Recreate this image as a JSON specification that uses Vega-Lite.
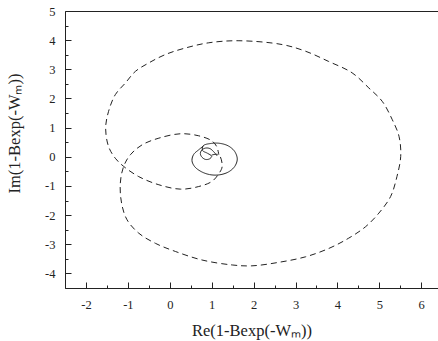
{
  "$schema": "https://vega.github.io/schema/vega-lite/v6.json",
  "width": 373,
  "height": 277,
  "autosize": {"type": "none"},
  "padding": {"left": 65, "top": 11, "right": 0, "bottom": 53},
  "background": "white",
  "config": {
    "view": {"stroke": null},
    "axis": {
      "labelFont": "Liberation Serif",
      "titleFont": "Liberation Serif",
      "labelFontSize": 12.5,
      "titleFontSize": 16.5,
      "titleFontWeight": "normal",
      "labelColor": "#222",
      "titleColor": "#222",
      "domainColor": "#222",
      "tickColor": "#222",
      "grid": false
    }
  },
  "data": {"name": "curves"},
  "datasets": {
    "curves": [
      {"s": "dashed", "o": 0, "x": 1.0, "y": 0.06},
      {"s": "dashed", "o": 1, "x": 1.17, "y": 0.07},
      {"s": "dashed", "o": 2, "x": 1.25, "y": -0.33},
      {"s": "dashed", "o": 3, "x": 1.17, "y": -0.58},
      {"s": "dashed", "o": 4, "x": 1.0, "y": -0.85},
      {"s": "dashed", "o": 5, "x": 0.69, "y": -1.02},
      {"s": "dashed", "o": 6, "x": 0.26, "y": -1.11},
      {"s": "dashed", "o": 7, "x": -0.26, "y": -0.96},
      {"s": "dashed", "o": 8, "x": -0.74, "y": -0.68},
      {"s": "dashed", "o": 9, "x": -1.1, "y": -0.33},
      {"s": "dashed", "o": 10, "x": -1.3, "y": -0.05},
      {"s": "dashed", "o": 11, "x": -1.46, "y": 0.35},
      {"s": "dashed", "o": 12, "x": -1.53, "y": 0.99},
      {"s": "dashed", "o": 13, "x": -1.46, "y": 1.56},
      {"s": "dashed", "o": 14, "x": -1.3, "y": 2.13},
      {"s": "dashed", "o": 15, "x": -1.06, "y": 2.53},
      {"s": "dashed", "o": 16, "x": -0.82, "y": 2.93},
      {"s": "dashed", "o": 17, "x": -0.5, "y": 3.22},
      {"s": "dashed", "o": 18, "x": -0.1, "y": 3.51},
      {"s": "dashed", "o": 19, "x": 0.37, "y": 3.73},
      {"s": "dashed", "o": 20, "x": 0.93, "y": 3.91},
      {"s": "dashed", "o": 21, "x": 1.65, "y": 3.98},
      {"s": "dashed", "o": 22, "x": 2.68, "y": 3.85},
      {"s": "dashed", "o": 23, "x": 3.24, "y": 3.62},
      {"s": "dashed", "o": 24, "x": 3.79, "y": 3.27},
      {"s": "dashed", "o": 25, "x": 4.35, "y": 2.88},
      {"s": "dashed", "o": 26, "x": 4.75, "y": 2.36},
      {"s": "dashed", "o": 27, "x": 5.07, "y": 1.9},
      {"s": "dashed", "o": 28, "x": 5.31, "y": 1.27},
      {"s": "dashed", "o": 29, "x": 5.47, "y": 0.7},
      {"s": "dashed", "o": 30, "x": 5.51, "y": 0.01},
      {"s": "dashed", "o": 31, "x": 5.42, "y": -0.68},
      {"s": "dashed", "o": 32, "x": 5.27, "y": -1.36},
      {"s": "dashed", "o": 33, "x": 4.99, "y": -1.93},
      {"s": "dashed", "o": 34, "x": 4.67, "y": -2.4},
      {"s": "dashed", "o": 35, "x": 4.27, "y": -2.79},
      {"s": "dashed", "o": 36, "x": 3.8, "y": -3.14},
      {"s": "dashed", "o": 37, "x": 3.24, "y": -3.43},
      {"s": "dashed", "o": 38, "x": 2.6, "y": -3.62},
      {"s": "dashed", "o": 39, "x": 1.96, "y": -3.74},
      {"s": "dashed", "o": 40, "x": 1.49, "y": -3.71},
      {"s": "dashed", "o": 41, "x": 0.77, "y": -3.54},
      {"s": "dashed", "o": 42, "x": 0.14, "y": -3.25},
      {"s": "dashed", "o": 43, "x": -0.34, "y": -2.97},
      {"s": "dashed", "o": 44, "x": -0.74, "y": -2.62},
      {"s": "dashed", "o": 45, "x": -1.02, "y": -2.16},
      {"s": "dashed", "o": 46, "x": -1.15, "y": -1.59},
      {"s": "dashed", "o": 47, "x": -1.18, "y": -0.9},
      {"s": "dashed", "o": 48, "x": -1.1, "y": -0.33},
      {"s": "dashed", "o": 49, "x": -0.94, "y": 0.07},
      {"s": "dashed", "o": 50, "x": -0.66, "y": 0.41},
      {"s": "dashed", "o": 51, "x": -0.26, "y": 0.64},
      {"s": "dashed", "o": 52, "x": 0.26, "y": 0.79},
      {"s": "dashed", "o": 53, "x": 0.69, "y": 0.72},
      {"s": "dashed", "o": 54, "x": 1.0, "y": 0.55},
      {"s": "dashed", "o": 55, "x": 1.12, "y": 0.35},
      {"s": "dashed", "o": 56, "x": 1.17, "y": 0.07},
      {"s": "solid", "o": 0, "x": 1.13, "y": 0.03},
      {"s": "solid", "o": 1, "x": 1.05, "y": 0.17},
      {"s": "solid", "o": 2, "x": 0.96, "y": 0.28},
      {"s": "solid", "o": 3, "x": 0.86, "y": 0.3},
      {"s": "solid", "o": 4, "x": 0.77, "y": 0.24},
      {"s": "solid", "o": 5, "x": 0.73, "y": 0.12},
      {"s": "solid", "o": 6, "x": 0.76, "y": 0.0},
      {"s": "solid", "o": 7, "x": 0.85, "y": -0.09},
      {"s": "solid", "o": 8, "x": 0.95, "y": -0.07},
      {"s": "solid", "o": 9, "x": 1.0, "y": 0.02},
      {"s": "solid", "o": 10, "x": 0.9, "y": 0.12},
      {"s": "solid", "o": 11, "x": 0.78, "y": 0.22},
      {"s": "solid", "o": 12, "x": 0.8, "y": 0.38},
      {"s": "solid", "o": 13, "x": 1.0, "y": 0.46},
      {"s": "solid", "o": 14, "x": 1.2, "y": 0.46},
      {"s": "solid", "o": 15, "x": 1.4, "y": 0.37},
      {"s": "solid", "o": 16, "x": 1.55, "y": 0.18},
      {"s": "solid", "o": 17, "x": 1.61, "y": -0.08},
      {"s": "solid", "o": 18, "x": 1.55, "y": -0.33},
      {"s": "solid", "o": 19, "x": 1.4, "y": -0.52},
      {"s": "solid", "o": 20, "x": 1.18, "y": -0.62},
      {"s": "solid", "o": 21, "x": 0.95, "y": -0.61},
      {"s": "solid", "o": 22, "x": 0.74, "y": -0.5},
      {"s": "solid", "o": 23, "x": 0.59, "y": -0.33},
      {"s": "solid", "o": 24, "x": 0.53, "y": -0.13},
      {"s": "solid", "o": 25, "x": 0.57, "y": 0.08},
      {"s": "solid", "o": 26, "x": 0.69, "y": 0.24},
      {"s": "solid", "o": 27, "x": 0.81, "y": 0.38}
    ]
  },
  "resolve": {"axis": {"x": "independent", "y": "independent"}},
  "layer": [
    {
      "mark": {"type": "line", "color": "#222", "strokeWidth": 1, "interpolate": "catmull-rom"},
      "encoding": {
        "x": {
          "field": "x", "type": "quantitative",
          "scale": {"domain": [-2.5, 6.4], "nice": false, "zero": false},
          "axis": {
            "orient": "bottom",
            "title": "Re(1-Bexp(-Wₘ))",
            "values": [-2, -1, 0, 1, 2, 3, 4, 5, 6],
            "labelExpr": "datum.value + ''",
            "ticks": false,
            "labelPadding": 10,
            "titlePadding": 12
          }
        },
        "y": {
          "field": "y", "type": "quantitative",
          "scale": {"domain": [-4.5, 5], "nice": false, "zero": false},
          "axis": {
            "orient": "left",
            "title": "Im(1-Bexp(-Wₘ))",
            "values": [-4, -3, -2, -1, 0, 1, 2, 3, 4, 5],
            "labelExpr": "datum.value + ''",
            "ticks": false,
            "labelPadding": 10,
            "titlePadding": 22,
            "titleY": 122
          }
        },
        "detail": {"field": "s"},
        "order": {"field": "o", "type": "quantitative"},
        "strokeDash": {
          "field": "s", "type": "nominal",
          "scale": {"domain": ["dashed", "solid"], "range": [[6, 4], [1, 0]]},
          "legend": null
        }
      }
    },
    {
      "mark": {"type": "line", "strokeOpacity": 0},
      "encoding": {
        "x": {
          "field": "x", "type": "quantitative",
          "axis": {
            "orient": "bottom",
            "title": null,
            "offset": -6,
            "domain": false,
            "values": [-2, -1, 0, 1, 2, 3, 4, 5, 6],
            "labels": false,
            "tickSize": 6
          }
        },
        "y": {
          "field": "y", "type": "quantitative",
          "axis": {
            "orient": "left",
            "title": null,
            "offset": -6,
            "domain": false,
            "values": [-4, -3, -2, -1, 0, 1, 2, 3, 4, 5],
            "labels": false,
            "tickSize": 6
          }
        },
        "detail": {"field": "s"},
        "order": {"field": "o", "type": "quantitative"}
      }
    },
    {
      "mark": {"type": "line", "strokeOpacity": 0},
      "encoding": {
        "x": {
          "field": "x", "type": "quantitative",
          "axis": {
            "orient": "bottom",
            "title": null,
            "offset": -3,
            "domain": false,
            "values": [-2.5, -1.5, -0.5, 0.5, 1.5, 2.5, 3.5, 4.5, 5.5],
            "labels": false,
            "tickSize": 3
          }
        },
        "y": {
          "field": "y", "type": "quantitative",
          "axis": {
            "orient": "left",
            "title": null,
            "offset": -3,
            "domain": false,
            "values": [-4.5, -3.5, -2.5, -1.5, -0.5, 0.5, 1.5, 2.5, 3.5, 4.5],
            "labels": false,
            "tickSize": 3
          }
        },
        "detail": {"field": "s"},
        "order": {"field": "o", "type": "quantitative"}
      }
    },
    {
      "mark": {"type": "line", "strokeOpacity": 0},
      "encoding": {
        "x": {
          "field": "x", "type": "quantitative",
          "axis": {
            "orient": "top",
            "title": null,
            "ticks": false,
            "labels": false,
            "domain": true
          }
        },
        "y": {"field": "y", "type": "quantitative", "axis": null},
        "detail": {"field": "s"},
        "order": {"field": "o", "type": "quantitative"}
      }
    }
  ]
}
